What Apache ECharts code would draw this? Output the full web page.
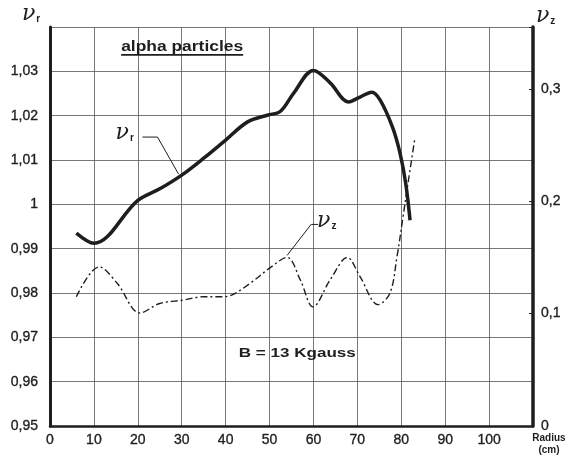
<!DOCTYPE html>
<html>
<head>
<meta charset="utf-8">
<script src="https://cdn.jsdelivr.net/npm/echarts@6/dist/echarts.min.js"></script>
<style>
  html, body { margin: 0; padding: 0; background: #fff; }
  #chart { width: 565px; height: 456px; }
</style>
</head>
<body>
<div id="chart"></div>
<script>
// radius (cm) / nu_r
var vrRadius = [6, 10, 20, 25, 30, 35, 40, 45, 49.5, 52.5, 55.5, 60, 63.8, 68, 70.6, 73.3, 75.2, 78, 79.7, 81, 82];
var vrValues = [0.9935, 0.9912, 1.0009, 1.0035, 1.0066, 1.0104, 1.0145, 1.0186, 1.0201, 1.021, 1.0251, 1.0302, 1.0274, 1.0231, 1.0242, 1.0253, 1.0235, 1.0174, 1.0116, 1.0048, 0.9964];
// radius (cm) / nu_z (right axis)
var vzRadius = [6, 11.2, 15.3, 20.5, 25, 30.3, 34.9, 38.7, 41, 45.6, 50.1, 54, 57, 59.9, 63.8, 67.7, 70.6, 74.7, 77.4, 79, 80.4, 81.3, 83.1];
var vzValues = [0.115, 0.1416, 0.127, 0.1006, 0.109, 0.112, 0.115, 0.115, 0.116, 0.127, 0.1407, 0.150, 0.130, 0.106, 0.130, 0.150, 0.133, 0.108, 0.118, 0.150, 0.186, 0.210, 0.256];

var xTicks = [0, 10, 20, 30, 40, 50, 60, 70, 80, 90, 100];
var leftTicks = [0.95, 0.96, 0.97, 0.98, 0.99, 1.00, 1.01, 1.02, 1.03];
var rightTicks = [0, 0.1, 0.2, 0.3];

var ink = '#1e1e1e';
var labelFont = 'Liberation Sans';

function comma(v) {
    return String(v).replace('.', ',');
}
function zipPairs(xs, ys) {
    return xs.map(function (x, i) { return [x, ys[i]]; });
}
function near(list, v) {
    for (var i = 0; i < list.length; i++) {
        if (Math.abs(list[i] - v) < 1e-6) return list[i];
    }
    return null;
}
// stretch factor so a string fills a given width (the print has wide letter spacing)
var measureCtx = document.createElement('canvas').getContext('2d');
function stretch(text, font, width) {
    measureCtx.font = font;
    return width / measureCtx.measureText(text).width;
}

var tickLabel = {
    color: ink, fontFamily: labelFont, fontSize: 14,
    textBorderColor: ink, textBorderWidth: 0.35
};

var chart = echarts.init(document.getElementById('chart'));
var option = {
    animation: false,
    backgroundColor: '#fff',
    grid: { left: 50, right: 32, top: 27, bottom: 30 },
    xAxis: {
        type: 'value', min: 0, max: 110, interval: 10,
        axisLine: { lineStyle: { color: ink, width: 2.5 } },
        axisTick: { show: false },
        splitLine: { show: true, lineStyle: { color: '#555', width: 0.8 } },
        axisLabel: Object.assign({
            margin: 7,
            formatter: function (v) { var t = near(xTicks, v); return t === null ? '' : String(t); }
        }, tickLabel)
    },
    yAxis: [{
        type: 'value', min: 0.95, max: 1.04, interval: 0.01,
        axisLine: { show: true, lineStyle: { color: ink, width: 3 } },
        axisTick: { show: false },
        splitLine: { show: true, lineStyle: { color: '#555', width: 0.8 } },
        axisLabel: Object.assign({
            margin: 12,
            formatter: function (v) {
                var t = near(leftTicks, v);
                if (t === null) return '';
                return t === 1 ? '1' : comma(t.toFixed(2));
            }
        }, tickLabel)
    }, {
        type: 'value', min: 0, max: 0.355, interval: 0.1, position: 'right',
        axisLine: { show: true, lineStyle: { color: ink, width: 3.5 } },
        axisTick: { show: true, inside: true, length: 4, lineStyle: { color: ink } },
        splitLine: { show: false },
        axisLabel: Object.assign({
            margin: 8,
            formatter: function (v) { var t = near(rightTicks, v); return t === null ? '' : comma(t); }
        }, tickLabel)
    }],
    series: [{
        name: 'vr', type: 'line', yAxisIndex: 0, smooth: 0.35, symbol: 'none',
        lineStyle: { color: ink, width: 3.5 },
        data: zipPairs(vrRadius, vrValues)
    }, {
        name: 'vz', type: 'line', yAxisIndex: 1, smooth: 0.35, symbol: 'none',
        lineStyle: { color: ink, width: 1.4, type: [7, 3, 2, 3] },
        data: zipPairs(vzRadius, vzValues)
    }]
};
chart.setOption(option);

// annotations placed from data coordinates
function px(x, y, axis) {
    return chart.convertToPixel({ xAxisIndex: 0, yAxisIndex: axis }, [x, y]);
}
var nuStyle = {
    n: { fontFamily: 'DejaVu Serif', fontStyle: 'italic', fontSize: 22, fill: ink },
    s: { fontFamily: labelFont, fontWeight: 'bold', fontSize: 10, fill: ink, padding: [10, 0, 0, 1] }
};
function nuText(sub, x, y) {
    return {
        type: 'text', x: x, y: y,
        style: { text: '{n|ν}{s|' + sub + '}', rich: nuStyle, fill: ink }
    };
}

var vrTip = px(29.5, 1.0066, 0);
var vzTip = px(54, 0.150, 1);
var titleAt = px(16.2, 1.0355, 0);
var bAt = px(43, 0.9662, 0);

var titleText = 'alpha particles';
var titleFont = 'bold 14px "Liberation Sans"';
var bText = 'B = 13 Kgauss';
var bFont = 'bold 12px "Liberation Sans"';

chart.setOption({
    graphic: [
        nuText('r', 22, 3),
        nuText('z', 536, 5),
        nuText('r', vrTip[0] - 64, vrTip[1] - 53),
        nuText('z', vzTip[0] + 30, vzTip[1] - 47),
        {
            type: 'polyline',
            shape: { points: [[vrTip[0] - 37, vrTip[1] - 38], [vrTip[0] - 22, vrTip[1] - 38], [vrTip[0] - 1, vrTip[1] - 1]] },
            style: { stroke: ink, lineWidth: 1, fill: null }
        },
        {
            type: 'polyline',
            shape: { points: [[vzTip[0] + 31, vzTip[1] - 33], [vzTip[0] + 24, vzTip[1] - 33], [vzTip[0], vzTip[1] - 2]] },
            style: { stroke: ink, lineWidth: 1, fill: null }
        },
        {
            type: 'text', x: titleAt[0], y: titleAt[1],
            scaleX: stretch(titleText, titleFont, 122),
            style: {
                text: titleText, font: titleFont, fill: ink, textVerticalAlign: 'middle'
            }
        },
        {
            type: 'line',
            shape: { x1: titleAt[0], y1: titleAt[1] + 8, x2: titleAt[0] + 122, y2: titleAt[1] + 8 },
            style: { stroke: ink, lineWidth: 1.8 }
        },
        {
            type: 'text', x: bAt[0], y: bAt[1],
            scaleX: stretch(bText, bFont, 117),
            style: {
                text: bText, font: bFont, fill: ink, textVerticalAlign: 'middle'
            }
        },
        {
            type: 'text', x: 549, y: 432, style: {
                text: 'Radius\n(cm)', fontFamily: labelFont, fontWeight: 'bold', fontSize: 10,
                fill: ink, textAlign: 'center', lineHeight: 12
            }
        }
    ]
});
</script>
</body>
</html>
